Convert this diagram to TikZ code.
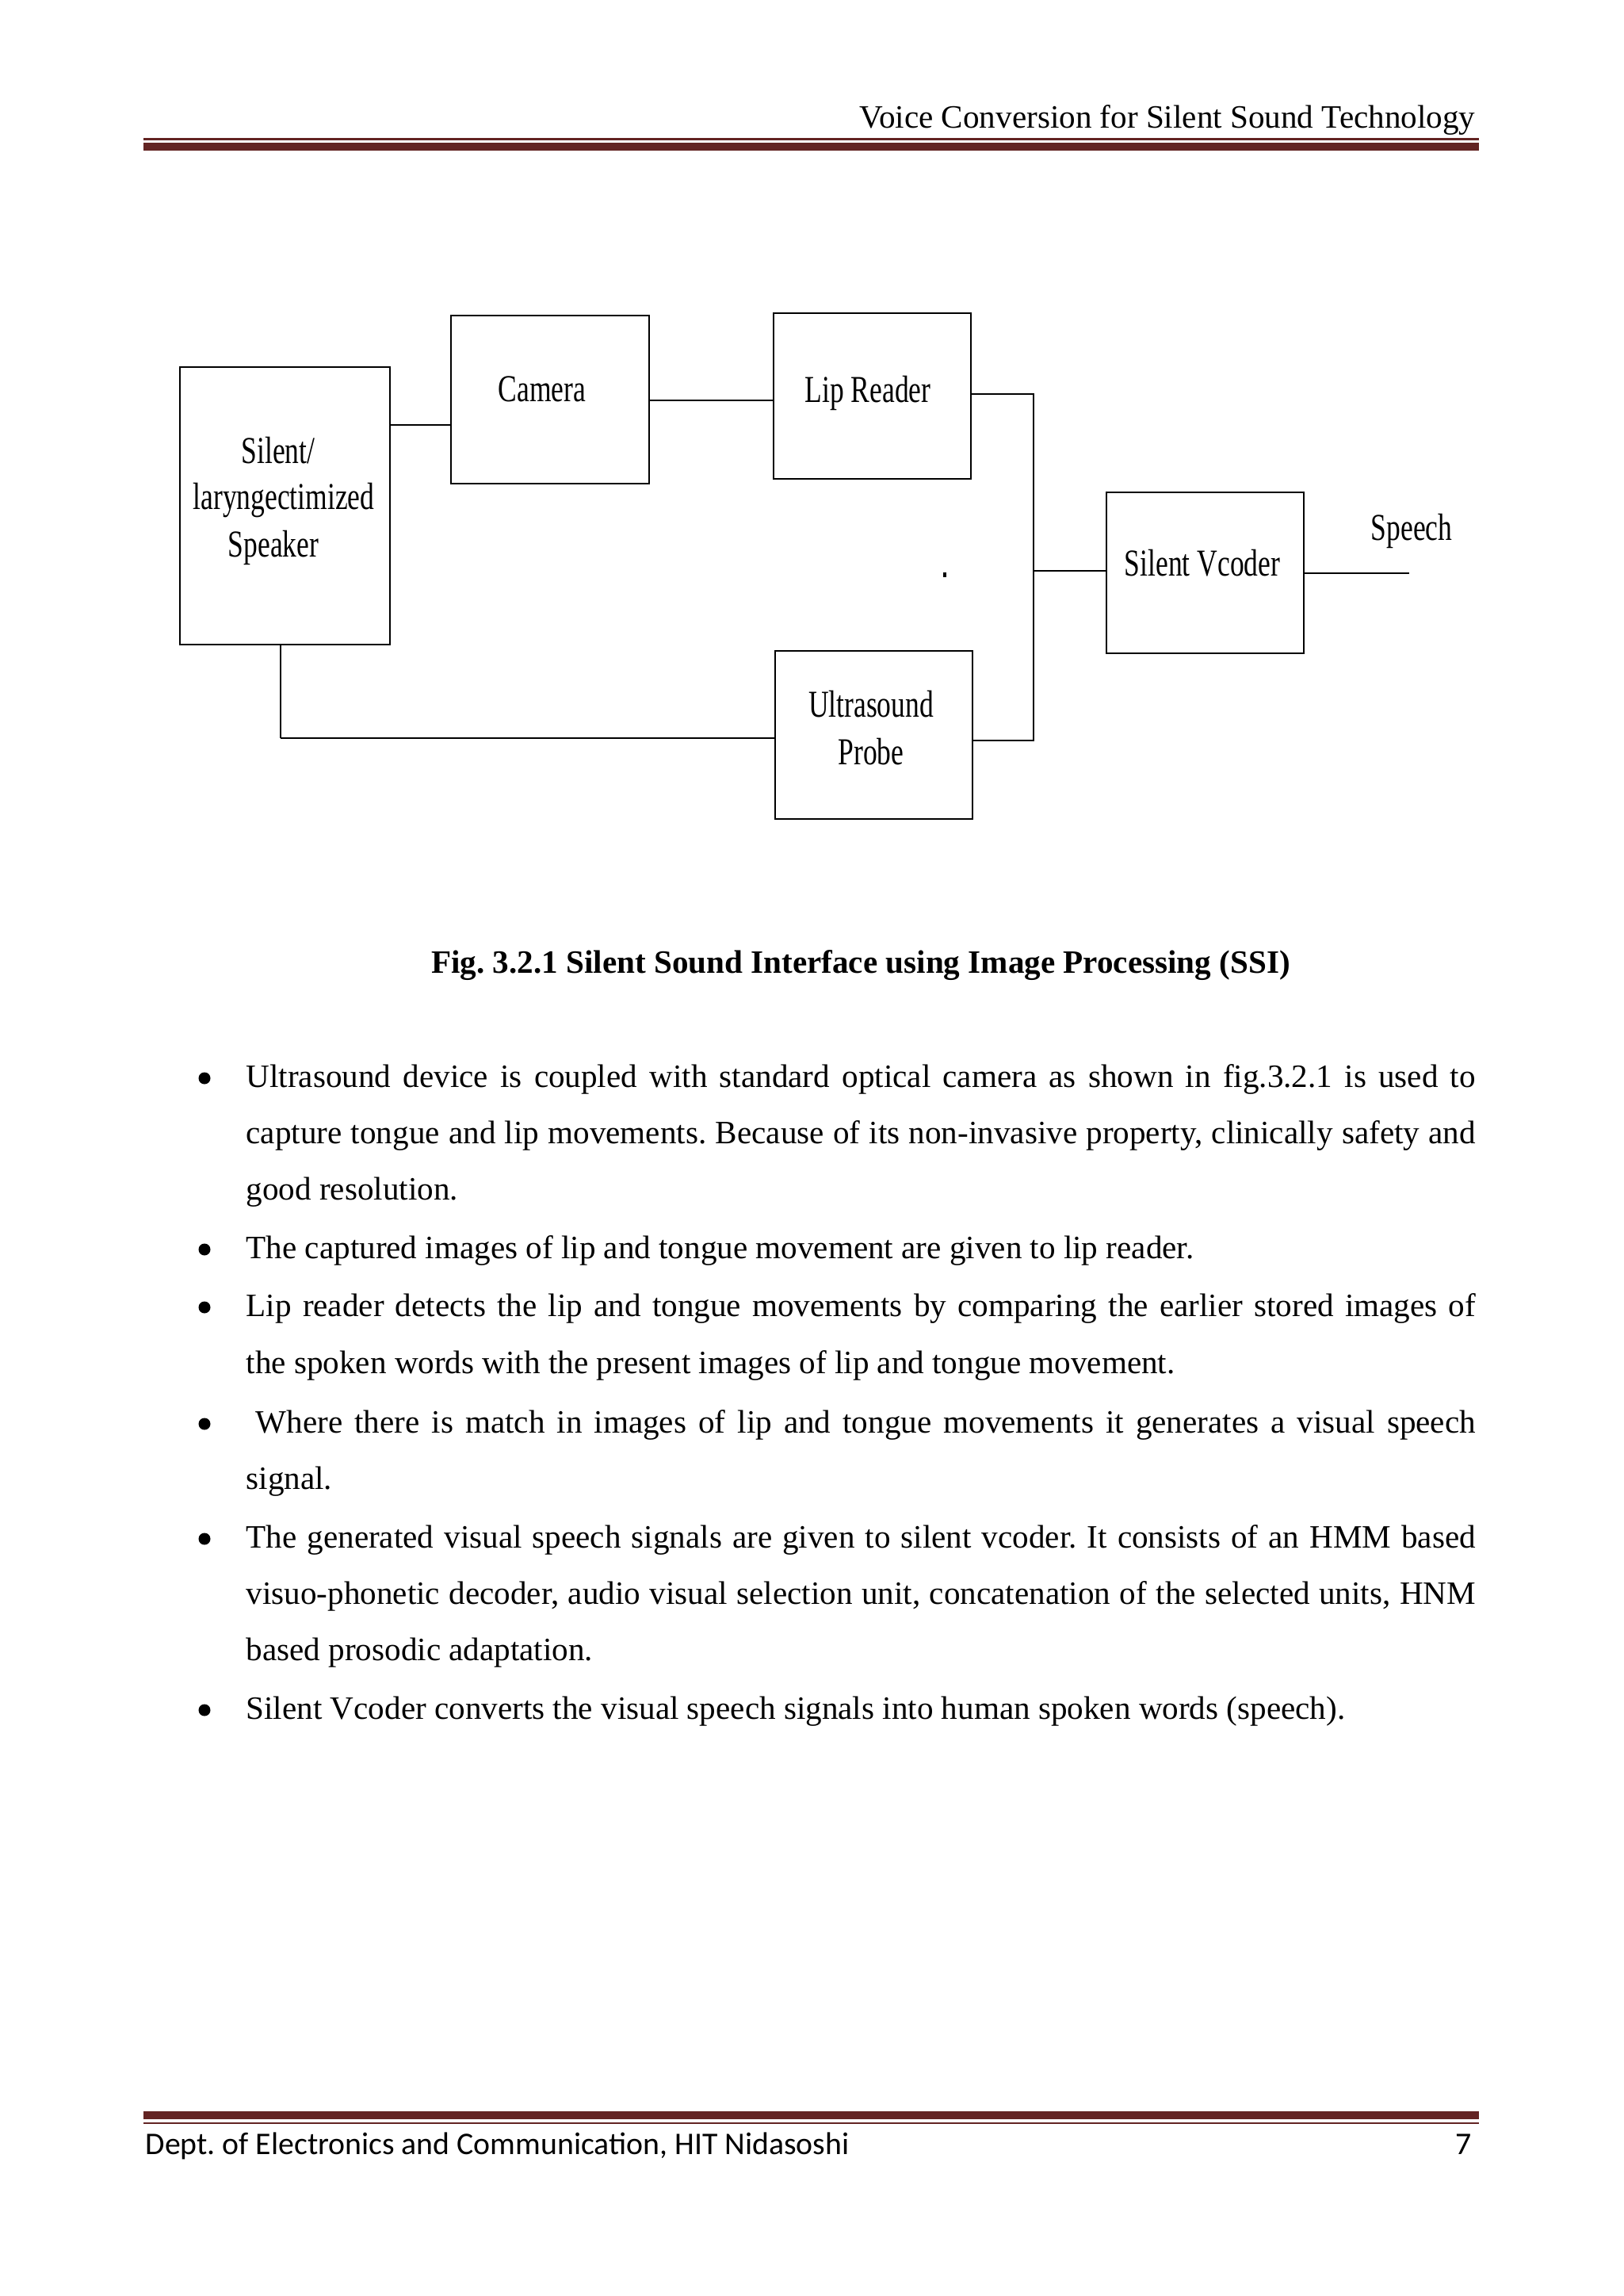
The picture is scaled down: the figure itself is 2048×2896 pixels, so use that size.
\documentclass[tikz,border=0pt]{standalone}
\usepackage{fontspec}
\setmainfont{Liberation Serif}
\newfontfamily\condfont[FakeStretch=0.74]{Liberation Serif}
\newfontfamily\footfont{Carlito}
\definecolor{maroon}{RGB}{99,36,35}
\def\pxu{0.2907bp}
\frenchspacing
\begin{document}
\begin{tikzpicture}[x=0.2907bp,y=-0.2907bp,
  box/.style={draw=black, line width=0.75pt, rectangle, inner sep=0pt, fill=white},
  lbl/.style={inner sep=0pt, anchor=base, font=\condfont\fontsize{14}{17}\selectfont},
  conn/.style={draw=black, line width=0.65pt},
  thinconn/.style={draw=black, line width=0.4pt},
  bodyline/.style={inner sep=0pt, anchor=base west, font=\frenchspacing\fontsize{12}{14}\selectfont},
  bul/.style={circle, fill=black, inner sep=0pt, minimum size={15*\pxu}}]
\fill[white] (0,0) rectangle (2048,2896);
\useasboundingbox (0,0) rectangle (2048,2896);

% header
\node[inner sep=0pt, anchor=base east, font=\fontsize{12}{14}\selectfont] (hdr) at (1862,162) {Voice Conversion for Silent Sound Technology};
\fill[maroon] (181,174.5) rectangle (1866,177);
\fill[maroon] (181,180) rectangle (1866,190);

% boxes
\node[box, minimum width={265*\pxu}, minimum height={350*\pxu}] (spk) at (359.5,638) {};
\node[box, minimum width={250*\pxu}, minimum height={212*\pxu}] (cam) at (694,504) {};
\node[box, minimum width={249*\pxu}, minimum height={209*\pxu}] (lip) at (1100.5,499.5) {};
\node[box, minimum width={249*\pxu}, minimum height={212*\pxu}] (ult) at (1102.5,927) {};
\node[box, minimum width={249*\pxu}, minimum height={203*\pxu}] (voc) at (1520.5,722.5) {};

% labels
\node[lbl] (spkA) at (351,585) {Silent/};
\node[lbl] (spkB) at (358,643) {laryngectimized};
\node[lbl] (spkC) at (345,703) {Speaker};
\node[lbl] (camT) at (684,507) {Camera};
\node[lbl] (lipT) at (1095,508) {Lip Reader};
\node[lbl] (vocT) at (1517,727) {Silent Vcoder};
\node[lbl] (ultA) at (1099,904) {Ultrasound};
\node[lbl] (ultB) at (1099,964) {Probe};
\node[lbl] (spT) at (1781,682) {Speech};
\fill[black] (1190,722) rectangle (1194,728);

% connectors
\coordinate (busTop) at (1304,497);
\coordinate (busMid) at (1304,720);
\coordinate (busBot) at (1304,934);
\coordinate (spkCorner) at (354,931);
\coordinate (speechEnd) at (1778,723);
\draw[conn] (spk.east |- 0,536) -- (cam.west |- 0,536);
\draw[conn] (cam.east |- 0,505) -- (lip.west |- 0,505);
\draw[conn] (lip.east |- busTop) -- (busTop) -- (busBot) -- (ult.east |- busBot);
\draw[conn] (busMid) -- (voc.west |- busMid);
\draw[conn] (voc.east |- speechEnd) -- (speechEnd);
\draw[thinconn] (spk.south -| spkCorner) -- (spkCorner);
\draw[conn] (spkCorner) -- (ult.west |- spkCorner);

% caption
\node[inner sep=0pt, anchor=base, font=\bfseries\fontsize{12}{14}\selectfont] (cap) at (1086,1227) {Fig. 3.2.1 Silent Sound Interface using Image Processing (SSI)};

% bullets
\node[bul] (b1) at (258,1360) {};
\node[bul] (b2) at (258,1576) {};
\node[bul] (b3) at (258,1649) {};
\node[bul] (b4) at (258,1796) {};
\node[bul] (b5) at (258,1941) {};
\node[bul] (b6) at (258,2157) {};

% body lines
\node[bodyline] (l1) at (310,1371) {\makebox[450.9bp][s]{Ultrasound device is coupled with standard optical camera as shown in fig.3.2.1 is used to}};
\node[bodyline] (l2) at (310,1442) {\makebox[450.9bp][s]{capture tongue and lip movements. Because of its non-invasive property, clinically safety and}};
\node[bodyline] (l3) at (310,1513) {good resolution.};
\node[bodyline] (l4) at (310,1587) {The captured images of lip and tongue movement are given to lip reader.};
\node[bodyline] (l5) at (310,1660) {\makebox[450.9bp][s]{Lip reader detects the lip and tongue movements by comparing the earlier stored images of}};
\node[bodyline] (l6) at (310,1732) {the spoken words with the present images of lip and tongue movement.};
\node[bodyline] (l7) at (322,1807) {\makebox[447.4bp][s]{Where there is match in images of lip and tongue movements it generates a visual speech}};
\node[bodyline] (l8) at (310,1878) {signal.};
\node[bodyline] (l9) at (310,1952) {\makebox[450.9bp][s]{The generated visual speech signals are given to silent vcoder. It consists of an HMM based}};
\node[bodyline] (l10) at (310,2023) {\makebox[450.9bp][s]{visuo-phonetic decoder, audio visual selection unit, concatenation of the selected units, HNM}};
\node[bodyline] (l11) at (310,2094) {based prosodic adaptation.};
\node[bodyline] (l12) at (310,2168) {Silent Vcoder converts the visual speech signals into human spoken words (speech).};

% footer
\fill[maroon] (181,2663) rectangle (1866,2673);
\fill[maroon] (181,2676.5) rectangle (1866,2679);
\node[inner sep=0pt, anchor=base west, font=\footfont\fontsize{11.6}{13}\selectfont] (foot) at (183,2717) {Dept. of Electronics and Communication, HIT Nidasoshi};
\node[inner sep=0pt, anchor=base east, font=\footfont\fontsize{11.6}{13}\selectfont] (pg) at (1857,2717) {7};
\end{tikzpicture}
\end{document}
